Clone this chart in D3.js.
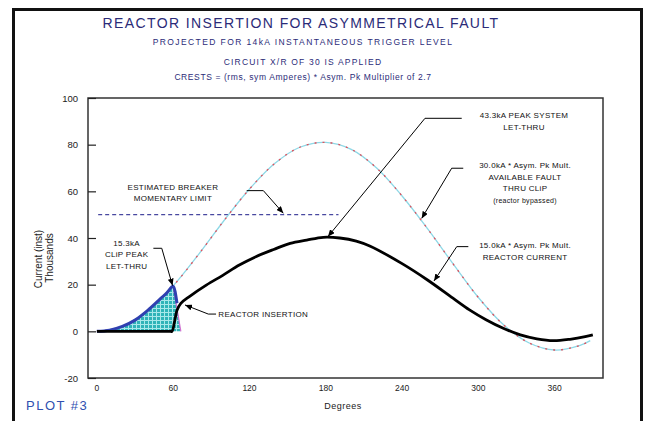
<!DOCTYPE html>
<html>
<head>
<meta charset="utf-8">
<script src="https://cdn.jsdelivr.net/npm/d3@7"></script>
<style>
  body { margin: 0; background: #fff; }
  text { font-family: "Liberation Sans", Arial, sans-serif; }
</style>
</head>
<body>
<div class="show-plot"></div>
<script>
///////////// DATA ////////////////////////
// degrees / kA (thousands)
const availDeg = [0, 20, 40, 60, 80, 100, 120, 140, 160, 180, 200, 220, 240, 260, 280, 300, 320, 340, 360, 380, 388];
const availKA  = [0, 2.1, 9, 19.5, 33, 47.5, 61, 72, 79, 81, 78, 70, 58, 44, 29, 14.5, 2.7, -5, -8, -6, -4];

const reactorDeg = [0, 57, 59, 61, 63, 66, 73, 86, 99, 112, 125, 139, 152, 165, 178, 191, 204, 215, 240, 260, 280, 293, 306, 320, 333, 346, 359, 372, 384, 390];
const reactorKA  = [0, 0, 0, 4, 9, 12, 15, 19.8, 24, 28.4, 32, 35.1, 37.7, 39.1, 40.3, 40, 38.7, 36.5, 29, 22, 14.2, 9.2, 5, 1.2, -1.5, -3.2, -4, -3.4, -2.3, -1.5];

const clipDeg = [0, 10, 20, 30, 40, 50, 55, 60, 63];
const clipKA  = [0, 0.5, 2.1, 4.8, 9, 14, 16.5, 19.3, 12];
const clipCutDeg = [60, 66];
const clipCutKA  = [19.3, 0];

const breakerDeg = [1, 190];
const breakerKA = 50;

const xTicks = [0, 60, 120, 180, 240, 300, 360];
const yTicks = [-20, 0, 20, 40, 60, 80, 100];

const titleLines = [
  "REACTOR INSERTION FOR ASYMMETRICAL FAULT",
  "PROJECTED FOR 14kA INSTANTANEOUS TRIGGER LEVEL",
  "CIRCUIT X/R OF 30 IS APPLIED",
  "CRESTS = (rms, sym Amperes) * Asym. Pk Multiplier of 2.7"
];

// label text, anchor (deg, kA) of first line, leader polyline ending in arrow tip
const notes = [
  { lines: ["ESTIMATED BREAKER", "MOMENTARY LIMIT"], at: [59.8, 60.6], anchor: "middle",
    leader: [[117.8, 60.3], [130.9, 60.3], [146.6, 50.6]] },
  { lines: ["15.3kA", "CLiP PEAK", "LET-THRU"], at: [23.4, 36.6], anchor: "middle",
    leader: [[44.4, 35.6], [51, 35.6], [59.5, 19.6]] },
  { lines: ["REACTOR INSERTION"], at: [95.5, 6.1], anchor: "start",
    leader: [[93.7, 7.4], [87.6, 7.4], [69.3, 11.3]] },
  { lines: ["43.3kA PEAK SYSTEM", "LET-THRU"], at: [335.9, 91.4], anchor: "middle",
    leader: [[286.9, 91.3], [258, 91.3], [181.7, 40.6]] },
  { lines: ["30.0kA * Asym. Pk Mult.", "AVAILABLE FAULT", "THRU CLiP", "(reactor bypassed)"], at: [336.7, 70], anchor: "middle",
    leader: [[288.1, 69.9], [279, 69.9], [255.4, 48.4]] },
  { lines: ["15.0kA * Asym. Pk Mult.", "REACTOR CURRENT"], at: [336.7, 35.7], anchor: "middle",
    leader: [[292.1, 36.3], [283, 36.3], [265.1, 21.6]] }
];

///////////// D3 ////////////////////////
let w = 651, h = 421;
let plot = { left: 88, right: 603, top: 98, bottom: 378 };

let svg = d3.select(".show-plot").append("svg")
  .attr("width", w)
  .attr("height", h);

svg.append("rect").attr("width", w).attr("height", h).attr("fill", "#fff");

let defs = svg.append("defs");
let pat = defs.append("pattern")
  .attr("id", "grid")
  .attr("width", 4).attr("height", 4)
  .attr("patternUnits", "userSpaceOnUse");
pat.append("rect").attr("width", 4).attr("height", 4).attr("fill", "#2fb3b8");
pat.append("path").attr("d", "M0,0.5H4M0.5,0V4").attr("stroke", "#a8e8ea").attr("stroke-width", 1);

defs.append("marker")
  .attr("id", "arrow")
  .attr("markerUnits", "userSpaceOnUse")
  .attr("markerWidth", 7).attr("markerHeight", 6)
  .attr("refX", 7).attr("refY", 3)
  .attr("orient", "auto")
  .append("path").attr("d", "M0,0L7,3L0,6Z").attr("fill", "#000");

let xScale = d3.scaleLinear().domain([-7, 398]).range([plot.left, plot.right]);
let yScale = d3.scaleLinear().domain([-20, 100]).range([plot.bottom, plot.top]);

// outer frame
svg.append("path")
  .attr("d", "M13.5,421V9.5H641.5V421")
  .attr("fill", "none").attr("stroke", "#111").attr("stroke-width", 3);

// titles
let titleY = [23, 42, 62, 77];
let titleSize = [14, 8.5, 8.5, 8.5];
let titleSpacing = [1.4, 1.4, 1.2, 0.6];
svg.selectAll(".title").data(titleLines).enter()
  .append("text")
  .attr("class", "title")
  .attr("x", (d, i) => i == 0 ? 301 : 303)
  .attr("y", (d, i) => titleY[i] + (i == 0 ? 5 : 3))
  .attr("text-anchor", "middle")
  .attr("font-size", (d, i) => titleSize[i] + "px")
  .attr("letter-spacing", (d, i) => titleSpacing[i] + "px")
  .attr("fill", "#2b2b78")
  .text(d => d);

// plot box
svg.append("rect")
  .attr("x", plot.left).attr("y", plot.top)
  .attr("width", plot.right - plot.left).attr("height", plot.bottom - plot.top)
  .attr("fill", "none").attr("stroke", "#333").attr("stroke-width", 1.5);

// axes
let yAxis = d3.axisRight(yScale).tickValues(yTicks).tickSize(8).tickFormat("");
svg.append("g").attr("transform", "translate(" + plot.left + ",0)").call(yAxis)
  .call(g => g.select(".domain").remove())
  .selectAll("line").attr("stroke", "#222").attr("stroke-width", 1.2);

svg.selectAll(".ylab").data(yTicks).enter()
  .append("text")
  .attr("x", 78)
  .attr("y", d => yScale(d) + 3.5)
  .attr("text-anchor", "end")
  .attr("font-size", "9.5px")
  .attr("fill", "#222")
  .text(d => d);

svg.selectAll(".xlab").data(xTicks).enter()
  .append("text")
  .attr("x", d => xScale(d))
  .attr("y", 391)
  .attr("text-anchor", "middle")
  .attr("font-size", "8.5px")
  .attr("fill", "#222")
  .text(d => d);

svg.append("text").attr("x", 343).attr("y", 409).attr("text-anchor", "middle")
  .attr("font-size", "9px").attr("fill", "#222").attr("letter-spacing", "0.5px").text("Degrees");

svg.append("text").attr("transform", "translate(42,259) rotate(-90)").attr("text-anchor", "middle")
  .attr("font-size", "10px").attr("fill", "#222").text("Current (inst)");
svg.append("text").attr("transform", "translate(53,258) rotate(-90)").attr("text-anchor", "middle")
  .attr("font-size", "10px").attr("fill", "#222").text("Thousands");

svg.append("text").attr("x", 26).attr("y", 410)
  .attr("font-size", "13px").attr("letter-spacing", "1.5px").attr("fill", "#3050b0").text("PLOT #3");

// breaker momentary limit
svg.append("line")
  .attr("x1", xScale(breakerDeg[0])).attr("x2", xScale(breakerDeg[1]))
  .attr("y1", yScale(breakerKA)).attr("y2", yScale(breakerKA))
  .attr("stroke", "#4848a0").attr("stroke-width", 1.2).attr("stroke-dasharray", "4,3");

// CLiP let-through fill
let clipArea = clipDeg.slice(0, clipDeg.indexOf(60) + 1).map((d, i) => [d, clipKA[i]]);
clipArea.push([clipCutDeg[1], clipCutKA[1]]);
let areaGen = d3.area().x(d => xScale(d[0])).y0(yScale(0)).y1(d => yScale(d[1]));
svg.append("path").datum(clipArea).attr("d", areaGen).attr("fill", "url(#grid)");

let lineGen = d3.line().x(d => xScale(d[0])).y(d => yScale(d[1])).curve(d3.curveCatmullRom.alpha(0.5));

// available fault (dotted red / cyan)
let avail = availDeg.map((d, i) => [d, availKA[i]]);
svg.append("path").datum(avail).attr("d", lineGen)
  .attr("fill", "none").attr("stroke", "#8ed8e6").attr("stroke-width", 1.3);
svg.append("path").datum(avail).attr("d", lineGen)
  .attr("fill", "none").attr("stroke", "#e0505c").attr("stroke-width", 1.3).attr("stroke-dasharray", "2,6");

// cut line of CLiP
svg.append("path").datum(clipCutDeg.map((d, i) => [d, clipCutKA[i]]))
  .attr("d", d3.line().x(d => xScale(d[0])).y(d => yScale(d[1])))
  .attr("fill", "none").attr("stroke", "#d070d0").attr("stroke-width", 1.2);

// CLiP curve
svg.append("path").datum(clipDeg.map((d, i) => [d, clipKA[i]]))
  .attr("d", d3.line().x(d => xScale(d[0])).y(d => yScale(d[1])).curve(d3.curveMonotoneX))
  .attr("fill", "none").attr("stroke", "#3040b0").attr("stroke-width", 3).attr("stroke-linejoin", "round");

// reactor current
svg.append("path").datum(reactorDeg.map((d, i) => [d, reactorKA[i]]))
  .attr("d", lineGen)
  .attr("fill", "none").attr("stroke", "#000").attr("stroke-width", 2.8).attr("stroke-linejoin", "round");

// annotations
let noteG = svg.selectAll(".note").data(notes).enter().append("g").attr("class", "note");
noteG.append("path")
  .attr("d", d => d3.line()(d.leader.map(p => [xScale(p[0]), yScale(p[1])])))
  .attr("fill", "none").attr("stroke", "#000").attr("stroke-width", 1)
  .attr("marker-end", "url(#arrow)");
noteG.each(function(d) {
  let g = d3.select(this);
  d.lines.forEach((t, i) => {
    let small = t.charAt(0) == "(";
    g.append("text")
      .attr("x", xScale(d.at[0]))
      .attr("y", yScale(d.at[1]) + i * 11.5)
      .attr("text-anchor", d.anchor)
      .attr("font-size", small ? "7px" : "8px")
      .attr("letter-spacing", "0.3px")
      .attr("fill", "#111")
      .text(t);
  });
});
</script>
</body>
</html>
